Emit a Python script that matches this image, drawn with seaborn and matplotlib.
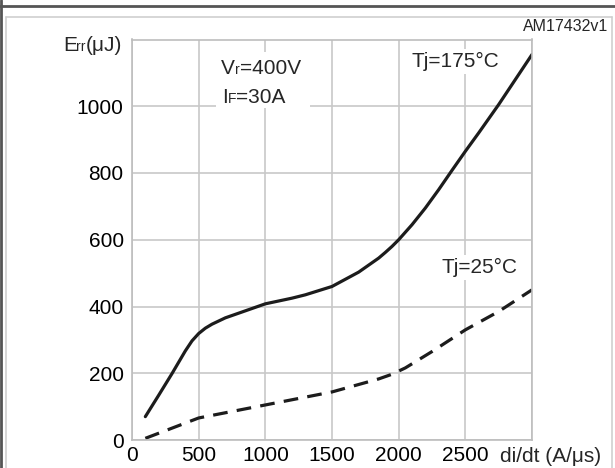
import matplotlib
matplotlib.use("Agg")
import matplotlib.pyplot as plt
from matplotlib.lines import Line2D
from matplotlib.patches import Rectangle
import seaborn as sns
import pandas as pd

# curve values
di_dt_175 = [100, 200, 300, 350, 400, 450, 500, 550, 600, 700, 800, 1000, 1200,
             1300, 1500, 1700, 1850, 1900, 1950, 2000, 2100, 2200, 2300, 2400,
             2500, 2600, 2750, 3000]
err_175 = [70, 134, 199, 233, 267, 297, 319, 335, 347, 366, 380, 408, 425,
           435, 460, 503, 545, 562, 580, 600, 645, 695, 750, 808,
           865, 920, 1005, 1155]

di_dt_25 = [100, 500, 1000, 1500, 1850, 1950, 2050, 2250, 2500, 2750, 3000]
err_25 = [5, 66, 105, 144, 183, 197, 216, 265, 330, 385, 450]

x_ticks = [0, 500, 1000, 1500, 2000, 2500]
y_ticks = [0, 200, 400, 600, 800, 1000]

W, H = 615, 468


def px(x, y):
    return x / W, 1 - y / H


sns.set_theme(style="whitegrid")
plt.rcParams['font.family'] = ['Liberation Sans', 'DejaVu Sans']

fig = plt.figure(figsize=(6.15, 4.68), dpi=100)
ax = fig.add_axes([132 / W, 1 - 440 / H, 400 / W, 400.5 / H])

df175 = pd.DataFrame({'x': di_dt_175, 'y': err_175})
df25 = pd.DataFrame({'x': di_dt_25, 'y': err_25})
sns.lineplot(data=df175, x='x', y='y', ax=ax, color='#1c1c1c', lw=2.3, sort=False)
sns.lineplot(data=df25, x='x', y='y', ax=ax, color='#1c1c1c', lw=2.3, sort=False,
             linestyle=(0, (4.6, 2.9)))

ax.set_xlim(0, 3000)
ax.set_ylim(0, 1200)
ax.set_xticks(x_ticks + [3000])
ax.set_xticklabels([str(v) for v in x_ticks] + [''])
ax.set_yticks(y_ticks + [1200])
ax.set_yticklabels([str(v) for v in y_ticks] + [''])
ax.set_xlabel('')
ax.set_ylabel('')
ax.grid(True, color='#c8c8c8', lw=1.2)
for s in ax.spines.values():
    s.set_color('#bdbdbd')
    s.set_linewidth(1.2)
ax.tick_params(axis='both', length=0, labelsize=15, colors='black')
ax.tick_params(axis='x', pad=4)
ax.tick_params(axis='y', pad=6)

# axis titles
fig.text(*px(63, 51), 'E', fontsize=15, va='baseline')
fig.text(*px(76, 51), 'rr', fontsize=10, va='baseline')
fig.text(*px(86, 51), '(μJ)', fontsize=15, va='baseline')
fig.text(*px(500, 462), 'di/dt (A/μs)', fontsize=15, va='baseline')

# white patch behind the test conditions
fig.add_artist(Rectangle(px(216, 108), 94 / W, 56 / H, facecolor='white',
                         edgecolor='none', transform=fig.transFigure, zorder=2.5))
fig.text(*px(221, 74), 'V', fontsize=15, va='baseline')
fig.text(*px(235, 74), 'r', fontsize=10, va='baseline')
fig.text(*px(240, 74), '=400V', fontsize=15, va='baseline')
fig.text(*px(222, 103), 'I', fontsize=15, va='baseline')
fig.text(*px(228, 103), 'F', fontsize=10, va='baseline')
fig.text(*px(236, 103), '=30A', fontsize=15, va='baseline')

box = dict(facecolor='white', edgecolor='none', pad=2)
fig.text(*px(411, 67), 'Tj=175°C', fontsize=15, va='baseline', bbox=box)
fig.text(*px(441, 273), 'Tj=25°C', fontsize=15, va='baseline', bbox=box)
fig.text(*px(608, 31), 'AM17432v1', fontsize=11.5, va='baseline', ha='right')

# page frame around the figure
frame = [((1, 1), (0, H)), ((0, W), (5.5, 5.5)),
         ((5.5, 5.5), (17, H)), ((5.5, 612), (17, 17)), ((612, 612), (17, H))]
for i, (xs, ys) in enumerate(frame):
    dark = i < 2
    fig.add_artist(Line2D([x / W for x in xs], [1 - y / H for y in ys],
                          color='#555555' if dark else '#cfcfcf',
                          lw=2.0 if dark else 1.2))

fig.savefig('out.png', dpi=100)
